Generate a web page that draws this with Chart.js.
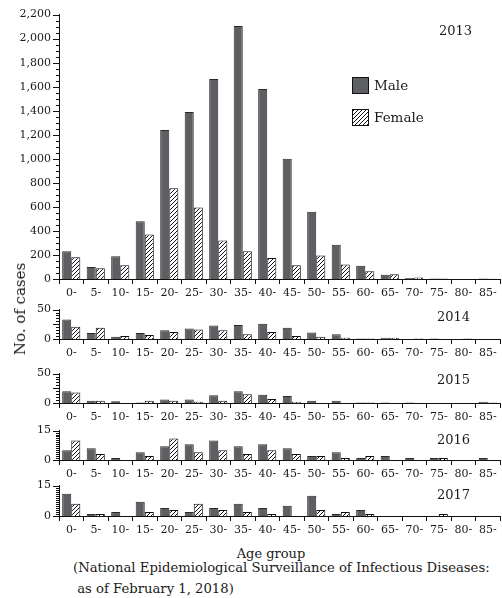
<!DOCTYPE html>
<html><head><meta charset="utf-8">
<script src="https://cdn.jsdelivr.net/npm/chart.js@4"></script>
<style>
html,body{margin:0;padding:0;background:#fff;}
#wrap{position:relative;width:502px;height:598px;overflow:hidden;font-family:"DejaVu Serif",serif;color:#1a1a1a;}
.panel{position:absolute;left:0;width:502px;}
.panel canvas{display:block;}
.txt{position:absolute;white-space:nowrap;}
</style></head><body>
<div id="wrap">
  <div class="panel" id="p0"><canvas id="c0"></canvas></div>
  <div class="panel" id="p1"><canvas id="c1"></canvas></div>
  <div class="panel" id="p2"><canvas id="c2"></canvas></div>
  <div class="panel" id="p3"><canvas id="c3"></canvas></div>
  <div class="panel" id="p4"><canvas id="c4"></canvas></div>
  <div class="txt" style="left:20px;top:309px;font-size:15px;transform:translate(-50%,-50%) rotate(-90deg);">No. of cases</div>
  <div class="txt" style="left:271px;top:553px;font-size:13px;transform:translate(-50%,-50%);">Age group</div>
  <div class="txt" style="left:73px;top:557px;font-size:13.2px;line-height:21px;">(National Epidemiological Surveillance of Infectious Diseases:<br>&nbsp;as of February 1, 2018)</div>
</div>
<script>
const ageGroups = ['0-','5-','10-','15-','20-','25-','30-','35-','40-','45-','50-','55-','60-','65-','70-','75-','80-','85-'];
const years = ['2013','2014','2015','2016','2017'];
const seriesNames = ['Male','Female'];
const male2013   = [230,100,190,480,1240,1390,1665,2105,1580,1000,560,285,110,35,8,5,0,5];
const female2013 = [180,90,115,370,755,595,320,230,175,115,195,120,65,40,12,5,0,2];
const male2014   = [33,10,4,10,15,18,23,24,26,19,11,8,1,2,0,1,0,0];
const female2014 = [21,19,5,7,12,16,15,8,12,5,4,2,1,2,1,0,1,0];
const male2015   = [20,4,3,1,6,6,13,20,14,12,4,4,1,1,1,0,0,2];
const female2015 = [18,4,0,4,4,2,4,15,7,2,0,0,1,0,0,0,0,1];
const male2016   = [5,6,1,4,7,8,10,7,8,6,2,4,1,2,1,1,0,1];
const female2016 = [10,3,0,2,11,4,5,3,5,3,2,1,2,0,0,1,0,0];
const male2017   = [11,1,2,7,4,2,4,6,4,5,10,1,3,0,0,0,0,0];
const female2017 = [6,1,0,2,3,6,3,2,1,0,3,2,1,0,0,1,0,0];
const yMax = [2200,50,50,15,15];
const yMajor = [200,25,25,15,15];
const yMinor = [50,5,5,1,1];

const maleData = [male2013,male2014,male2015,male2016,male2017];
const femaleData = [female2013,female2014,female2015,female2016,female2017];

// layout: chart-area top and height of each panel (page px)
const panelTop = [15,310,374,431,486];
const panelH = [264,29,29,29,30];
const PAD_TOP = 8, XAXIS_H = 22, W = 502;
const yearPos = [{dx:28,dy:17},{dx:30,dy:8},{dx:30,dy:7},{dx:30,dy:10},{dx:30,dy:10}];

function makeHatch(){
  const c = document.createElement('canvas');
  c.width = 4; c.height = 4;
  const g = c.getContext('2d');
  g.fillStyle = '#fff'; g.fillRect(0,0,4,4);
  g.strokeStyle = '#111'; g.lineWidth = 1;
  g.beginPath();
  g.moveTo(0,4); g.lineTo(4,0);
  g.moveTo(-1,1); g.lineTo(1,-1);
  g.moveTo(3,5); g.lineTo(5,3);
  g.stroke();
  return g.createPattern(c,'repeat');
}
const hatchPattern = makeHatch();

function ticksPlugin(max, major, minor){
  return {
    id: 'ticksPlugin',
    afterDraw(chart) {
      const y = chart.scales.y, ctx = chart.ctx;
      ctx.save();
      ctx.strokeStyle = '#111'; ctx.lineWidth = 1;
      for (let v = 0; v <= max + 1e-9; v += minor) {
        const p = Math.round(y.getPixelForValue(v)) + 0.5;
        const isMajor = Math.abs(v / major - Math.round(v / major)) < 1e-6;
        const len = isMajor ? 6 : 3;
        ctx.beginPath(); ctx.moveTo(y.right - len, p); ctx.lineTo(y.right, p); ctx.stroke();
      }
      ctx.restore();
    }
  };
}

function annotPlugin(year, dx, dy, legend){
  return {
    id: 'annotPlugin',
    afterDraw(chart) {
      const ctx = chart.ctx, a = chart.chartArea;
      ctx.save();
      ctx.fillStyle = '#1a1a1a';
      ctx.font = '13px "DejaVu Serif"';
      ctx.textAlign = 'right'; ctx.textBaseline = 'middle';
      ctx.fillText(year, a.right - dx, a.top + dy);
      if (legend) {
        const ds = chart.data.datasets;
        ctx.font = '13.5px "DejaVu Serif"';
        ctx.textAlign = 'left';
        [0,1].forEach(i => {
          const bx = Math.round(a.left + 293) + 0.5, by = Math.round(a.top + 62) + 0.5 + i * 32;
          ctx.fillStyle = ds[i].backgroundColor;
          ctx.fillRect(bx, by, 16, 16);
          ctx.strokeStyle = '#111'; ctx.lineWidth = 1;
          ctx.strokeRect(bx, by, 16, 16);
          ctx.fillStyle = '#1a1a1a';
          ctx.fillText(ds[i].label, a.left + 315, by + 8.5);
        });
      }
      ctx.restore();
    }
  };
}

function config(i){
  return {
    type: 'bar',
    data: {
      labels: ageGroups,
      datasets: [
        { label: seriesNames[0], data: maleData[i], backgroundColor: '#5e5f63', borderColor: '#2a2a2a', borderWidth: 1 },
        { label: seriesNames[1], data: femaleData[i], backgroundColor: hatchPattern, borderColor: '#111', borderWidth: 1 }
      ]
    },
    options: {
      responsive: false, animation: false, devicePixelRatio: 1,
      layout: { padding: { top: PAD_TOP, right: 2, left: 0, bottom: 0 } },
      categoryPercentage: 0.74, barPercentage: 1.0,
      plugins: { legend: { display: false }, tooltip: { enabled: false } },
      scales: {
        x: {
          offset: true,
          grid: { display: true, offset: true, drawOnChartArea: false, drawTicks: true, tickLength: 5, color: '#111' },
          border: { display: true, color: '#111', width: 1 },
          ticks: { font: { family: 'DejaVu Serif', size: 11 }, color: '#1a1a1a', padding: 3, maxRotation: 0, minRotation: 0, autoSkip: false },
          afterFit: s => { s.height = XAXIS_H; }
        },
        y: {
          min: 0, max: yMax[i],
          grid: { display: false, drawTicks: false },
          border: { display: true, color: '#111', width: 1 },
          ticks: { stepSize: yMajor[i], font: { family: 'DejaVu Serif', size: 11 }, color: '#1a1a1a', padding: 8,
                   callback: v => v.toLocaleString('en-US') },
          afterFit: s => { s.width = 59; }
        }
      }
    },
    plugins: [ticksPlugin(yMax[i], yMajor[i], yMinor[i]), annotPlugin(years[i], yearPos[i].dx, yearPos[i].dy, i === 0)]
  };
}

function sizeCanvas(cv, h){
  cv.width = W; cv.height = h;
  cv.style.width = W + 'px'; cv.style.height = h + 'px';
}

years.forEach((yr, i) => {
  const div = document.getElementById('p' + i);
  const cv = document.getElementById('c' + i);
  let H = PAD_TOP + panelH[i] + XAXIS_H;
  sizeCanvas(cv, H);
  let chart = new Chart(cv, config(i));
  for (let k = 0; k < 3; k++) {
    const a = chart.chartArea;
    const dh = panelH[i] - (a.bottom - a.top);
    if (Math.abs(dh) < 0.01) break;
    H = Math.round(H + dh);
    chart.destroy();
    sizeCanvas(cv, H);
    chart = new Chart(cv, config(i));
  }
  const a = chart.chartArea;
  div.style.top = (panelTop[i] - a.top) + 'px';
  div.style.height = H + 'px';
});
</script>
</body></html>
